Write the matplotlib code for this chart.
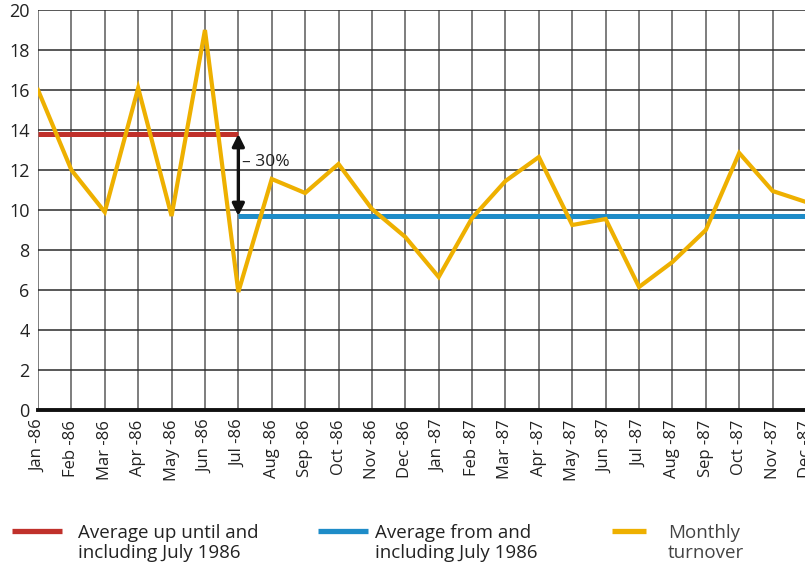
import matplotlib
matplotlib.use("Agg")
import matplotlib.pyplot as plt
from matplotlib.lines import Line2D

plt.rcParams['font.family'] = ['Open Sans', 'DejaVu Sans']

months = ["Jan -86", "Feb -86", "Mar -86", "Apr -86", "May -86", "Jun -86",
          "Jul -86", "Aug -86", "Sep -86", "Oct -86", "Nov -86", "Dec -86",
          "Jan -87", "Feb -87", "Mar -87", "Apr -87", "May -87", "Jun -87",
          "Jul -87", "Aug -87", "Sep -87", "Oct -87", "Nov -87", "Dec -87"]
turnover = [16.0, 12.0, 9.9, 16.1, 9.7, 19.0, 5.9, 11.55, 10.85, 12.3, 10.05, 8.65,
            6.65, 9.6, 11.45, 12.65, 9.25, 9.55, 6.15, 7.4, 9.0, 12.85, 10.95, 10.4]
avg_before = 13.8
avg_after = 9.7
split_month = "Jul -86"
change_label = "– 30%"

YELLOW = "#EEB000"
RED = "#C0312B"
BLUE = "#1E8CC8"

fig = plt.figure(figsize=(8.05, 5.66), dpi=100)
ax = fig.add_axes([38/805, 1 - 410/566, (806 - 38)/805, 400/566])

x = list(range(len(months)))
split = months.index(split_month)

# vertical month grid and horizontal value grid
for xi in x:
    ax.axvline(xi, color="#5a5a5a", lw=1.1, zorder=1)
for yv in range(2, 21, 2):
    ax.axhline(yv, color="#2a2a2a", lw=1.1, zorder=1)

ax.plot(x[:split + 1], [avg_before] * (split + 1), color=RED, lw=3.6,
        solid_capstyle="butt", zorder=3)
ax.plot(x[split:], [avg_after] * (len(x) - split), color=BLUE, lw=3.6,
        solid_capstyle="butt", zorder=3)
ax.plot(x, turnover, color=YELLOW, lw=3.0, solid_joinstyle="miter", zorder=4)

ax.annotate("", xy=(split, avg_after), xytext=(split, avg_before),
            arrowprops=dict(arrowstyle="<|-|>", color="#111111", lw=2.4,
                            mutation_scale=18, shrinkA=0, shrinkB=0), zorder=5)
ax.text(split + 0.12, (avg_before + avg_after) / 2 + 0.65, change_label,
        fontsize=12.5, color="#222222", va="center", ha="left", zorder=6)

ax.set_xlim(0, len(x) - 1)
ax.set_ylim(0, 20)
ax.set_xticks(x)
ax.set_xticklabels(months, rotation=90, fontsize=12, color="#222222")
ax.set_yticks(range(0, 21, 2))
ax.tick_params(axis="y", length=0, pad=6, labelsize=13, labelcolor="#222222")
ax.tick_params(axis="x", length=0, pad=7)
for s in ["top", "right", "left"]:
    ax.spines[s].set_visible(False)
ax.spines["bottom"].set_linewidth(2.8)
ax.spines["bottom"].set_color("#111111")
ax.spines["bottom"].set_zorder(6)

# legend row
legend_items = [
    (RED, "Average up until and\nincluding July 1986", 12, 62, 78, "#222222"),
    (BLUE, "Average from and\nincluding July 1986", 318, 368, 375, "#222222"),
    (YELLOW, "Monthly\nturnover", 612, 646, 668, "#444444"),
]
ly = 1 - 531/566
for color, label, x0, x1, xt, tc in legend_items:
    fig.add_artist(Line2D([x0/805, x1/805], [ly, ly], color=color, lw=3.8,
                          solid_capstyle="butt", transform=fig.transFigure))
    fig.text(xt/805, 1 - 543/566, label, fontsize=13.5, color=tc,
             ha="left", va="center", linespacing=1.2)

fig.savefig("out.png", dpi=100)
